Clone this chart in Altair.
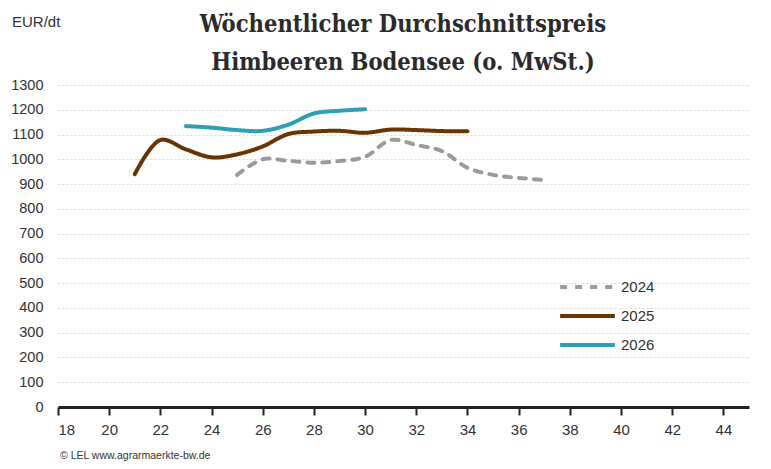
import altair as alt
import pandas as pd

# Kalenderwochen und Preise (EUR/dt)
weeks_2024 = list(range(25, 38))
prices_2024 = [937, 1000, 994, 986, 993, 1010, 1078, 1058, 1033, 966, 937, 925, 916]
weeks_2025 = list(range(21, 35))
prices_2025 = [940, 1078, 1040, 1008, 1020, 1052, 1102, 1112, 1115, 1107, 1120, 1118, 1114, 1113]
weeks_2026 = list(range(23, 31))
prices_2026 = [1134, 1128, 1118, 1115, 1140, 1185, 1196, 1202]

years = ["2024", "2025", "2026"]
year_colors = ["#9b9b9b", "#6b3403", "#2f9fb3"]
year_dashes = [[7, 8], [1, 0], [1, 0]]

x_ticks = list(range(18, 45, 2))
y_ticks = list(range(0, 1301, 100))

title_lines = ["Wöchentlicher Durchschnittspreis", "Himbeeren Bodensee (o. MwSt.)"]
unit_label = ["EUR/dt"]
source_label = ["© LEL www.agrarmaerkte-bw.de"]

SANS = "Liberation Sans, Arial, sans-serif"
SERIF = "DejaVu Serif Condensed, DejaVu Serif, serif"

df = pd.concat([
    pd.DataFrame({"Jahr": "2024", "KW": weeks_2024, "Preis": prices_2024}),
    pd.DataFrame({"Jahr": "2025", "KW": weeks_2025, "Preis": prices_2025}),
    pd.DataFrame({"Jahr": "2026", "KW": weeks_2026, "Preis": prices_2026}),
])

lines = alt.Chart(df).mark_line(
    interpolate="catmull-rom", strokeWidth=4, strokeCap="round"
).encode(
    x=alt.X("KW:Q", scale=alt.Scale(domain=[18, 45], nice=False, zero=False),
            axis=alt.Axis(values=x_ticks, title=None, grid=False, domainColor="#222222",
                          domainWidth=3, tickColor="#222222", tickWidth=2, tickSize=8,
                          labelPadding=7, labelFontSize=15, labelColor="#333333",
                          labelFont=SANS)),
    y=alt.Y("Preis:Q", scale=alt.Scale(domain=[0, 1300], nice=False),
            axis=alt.Axis(values=y_ticks, title=None, domain=False, ticks=False, format="d",
                          labelPadding=15, labelFontSize=14.5, labelColor="#333333",
                          labelFont=SANS, gridColor="#d9d9d9", gridDash=[2, 2])),
    color=alt.Color("Jahr:N", scale=alt.Scale(domain=years, range=year_colors),
                    legend=alt.Legend(title=None, orient="none", legendX=500, legendY=194,
                                      symbolType="stroke", symbolSize=3000,
                                      symbolStrokeWidth=4, labelFontSize=15,
                                      labelFont=SANS, labelColor="#333333",
                                      labelOffset=4, rowPadding=13, clipHeight=16)),
    strokeDash=alt.StrokeDash("Jahr:N", scale=alt.Scale(domain=years, range=year_dashes),
                              legend=None),
    order="KW:Q",
)

title = alt.Chart(pd.DataFrame({"t": ["\n".join(title_lines)]})).mark_text(
    align="center", baseline="alphabetic", fontSize=23.5, font=SERIF,
    fontWeight="bold", color="#2b2b2b", lineBreak="\n", lineHeight=38
).encode(text="t:N", x=alt.value(345), y=alt.value(-53))

unit = alt.Chart(pd.DataFrame({"t": unit_label})).mark_text(
    align="left", baseline="middle", fontSize=15, font=SANS, color="#333333"
).encode(text="t:N", x=alt.value(-46), y=alt.value(-63))

source = alt.Chart(pd.DataFrame({"t": source_label})).mark_text(
    align="left", baseline="middle", fontSize=10.5, font=SANS, color="#333333"
).encode(text="t:N", x=alt.value(2), y=alt.value(371))

chart = alt.layer(lines, title, unit, source).properties(
    width=691,
    height=322,
    autosize=alt.AutoSizeParams(type="none"),
    padding={"left": 50, "top": 77, "right": 14, "bottom": 54},
).configure_view(stroke=None)

chart.save("out.html", embed_options={"renderer": "svg", "actions": False})
